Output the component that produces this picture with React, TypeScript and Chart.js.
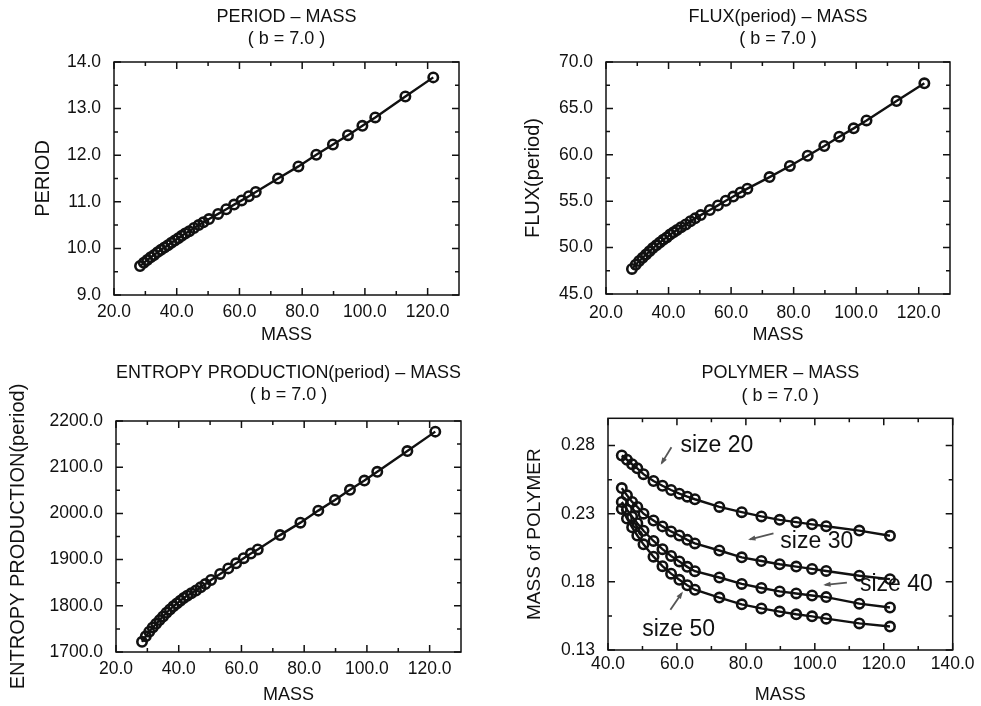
import React, { useEffect, useRef } from "react";
import { Chart, registerables } from "chart.js";
Chart.register(...registerables);

const FONT = "'Liberation Sans', Arial, Helvetica, sans-serif";
const INK = "#111111";

// ---- shared mass values (top panels + entropy) ----
const MASS = [28.3, 29.5, 30.6, 31.7, 32.8, 33.9, 35.0, 36.1, 37.2, 38.3, 39.4, 40.5, 41.6, 42.7, 44.0, 45.5, 47.0, 48.5, 50.3, 53.2, 55.8, 58.3, 60.7, 63.0, 65.2, 72.3, 78.8, 84.5, 89.8, 94.6, 99.2, 103.3, 112.9, 121.8];
const PERIOD = [9.62, 9.69, 9.75, 9.81, 9.86, 9.92, 9.97, 10.02, 10.07, 10.12, 10.17, 10.22, 10.27, 10.32, 10.37, 10.44, 10.50, 10.56, 10.63, 10.74, 10.84, 10.94, 11.03, 11.12, 11.21, 11.50, 11.76, 12.01, 12.23, 12.43, 12.63, 12.81, 13.26, 13.67];
const FLUX = [47.7, 48.15, 48.55, 48.9, 49.25, 49.6, 49.95, 50.25, 50.55, 50.85, 51.1, 51.4, 51.65, 51.9, 52.2, 52.5, 52.85, 53.15, 53.5, 54.05, 54.55, 55.05, 55.5, 55.95, 56.35, 57.6, 58.8, 59.9, 60.95, 61.95, 62.85, 63.7, 65.8, 67.7];
const ENTROPY = [1722, 1734, 1744, 1753, 1761, 1769, 1777, 1785, 1792, 1799, 1805, 1811, 1817, 1822, 1827, 1833, 1840, 1847, 1856, 1869, 1881, 1892, 1903, 1913, 1922, 1953, 1980, 2006, 2029, 2051, 2071, 2090, 2135, 2177];

// ---- polymer panel ----
const POLY_MASS = [44.0, 45.5, 47.0, 48.5, 50.3, 53.2, 55.8, 58.3, 60.7, 63.0, 65.2, 72.3, 78.8, 84.5, 89.8, 94.6, 99.2, 103.3, 112.9, 121.8];
const SIZE20 = [0.2727, 0.2696, 0.2663, 0.2633, 0.2590, 0.2540, 0.2505, 0.2474, 0.2447, 0.2425, 0.2406, 0.2350, 0.2311, 0.2280, 0.2255, 0.2238, 0.2222, 0.2208, 0.2176, 0.2138];
const SIZE30 = [0.2488, 0.2435, 0.2386, 0.2350, 0.2300, 0.2250, 0.2207, 0.2170, 0.2140, 0.2108, 0.2082, 0.2030, 0.1980, 0.1953, 0.1929, 0.1912, 0.1895, 0.1880, 0.1845, 0.1820];
const SIZE40 = [0.2386, 0.2330, 0.2278, 0.2230, 0.2175, 0.2100, 0.2040, 0.1990, 0.1950, 0.1910, 0.1878, 0.1832, 0.1785, 0.1755, 0.1730, 0.1715, 0.1700, 0.1688, 0.1640, 0.1612];
const SIZE50 = [0.2335, 0.2265, 0.2200, 0.2140, 0.2075, 0.1985, 0.1915, 0.1860, 0.1815, 0.1775, 0.1742, 0.1685, 0.1635, 0.1605, 0.1582, 0.1562, 0.1547, 0.1530, 0.1495, 0.1472];

const POLY_LABELS = ["size 20", "size 30", "size 40", "size 50"];
const POLY_LABEL_X = [61.0, 90.0, 113.1, 49.9];
const POLY_LABEL_Y = [0.2800, 0.2094, 0.1778, 0.1450];
const ARROW_FROM_X = [58.4, 88.0, 109.3, 58.1];
const ARROW_FROM_Y = [0.2788, 0.2155, 0.1795, 0.1596];
const ARROW_TO_X = [55.6, 81.2, 103.0, 61.4];
const ARROW_TO_Y = [0.2671, 0.2112, 0.1778, 0.1717];

// ---- ticks ----
const MASS_TICKS = [20, 40, 60, 80, 100, 120];
const MASS_MINOR = [30, 50, 70, 90, 110];
const POLY_MASS_TICKS = [40, 60, 80, 100, 120, 140];
const POLY_MASS_MINOR = [50, 70, 90, 110, 130];
const PERIOD_TICKS = [9, 10, 11, 12, 13, 14];
const PERIOD_MINOR = [9.5, 10.5, 11.5, 12.5, 13.5];
const FLUX_TICKS = [45, 50, 55, 60, 65, 70];
const FLUX_MINOR = [47.5, 52.5, 57.5, 62.5, 67.5];
const ENTROPY_TICKS = [1700, 1800, 1900, 2000, 2100, 2200];
const ENTROPY_MINOR = [1750, 1850, 1950, 2050, 2150];
const POLY_TICKS = [0.13, 0.18, 0.23, 0.28];
const POLY_MINOR = [0.155, 0.205, 0.255];

const pts = (xs: number[], ys: number[]) => xs.map((x, i) => ({ x, y: ys[i] }));

const lineDs = (data: { x: number; y: number }[]) => ({
  data,
  borderColor: INK,
  borderWidth: 2.4,
  pointRadius: 4.7,
  pointBorderWidth: 2.6,
  pointBorderColor: INK,
  pointBackgroundColor: "rgba(0,0,0,0)",
  tension: 0,
  fill: false,
});

const frameTicks = {
  id: "frameTicks",
  afterDatasetsDraw(chart: any, _a: any, opts: any) {
    const { ctx, chartArea: a, scales } = chart;
    const sx = scales.x;
    const sy = scales.y;
    ctx.save();
    ctx.strokeStyle = INK;
    ctx.lineWidth = 1.5;
    ctx.strokeRect(a.left, a.top, a.right - a.left, a.bottom - a.top);
    const tx = (vals: number[], len: number) => {
      vals.forEach((v) => {
        const p = sx.getPixelForValue(v);
        ctx.beginPath();
        ctx.moveTo(p, a.bottom);
        ctx.lineTo(p, a.bottom - len);
        ctx.moveTo(p, a.top);
        ctx.lineTo(p, a.top + len);
        ctx.stroke();
      });
    };
    const ty = (vals: number[], len: number) => {
      vals.forEach((v) => {
        const p = sy.getPixelForValue(v);
        ctx.beginPath();
        ctx.moveTo(a.left, p);
        ctx.lineTo(a.left + len, p);
        ctx.moveTo(a.right, p);
        ctx.lineTo(a.right - len, p);
        ctx.stroke();
      });
    };
    tx(opts.xMajor, 7);
    tx(opts.xMinor, 4);
    ty(opts.yMajor, 7);
    ty(opts.yMinor, 4);
    ctx.restore();
  },
};

const polyNotes = {
  id: "polyNotes",
  afterDatasetsDraw(chart: any) {
    const { ctx, scales } = chart;
    const sx = scales.x;
    const sy = scales.y;
    ctx.save();
    ctx.fillStyle = INK;
    ctx.font = `23px ${FONT}`;
    ctx.textAlign = "left";
    ctx.textBaseline = "middle";
    POLY_LABELS.forEach((t, i) => {
      ctx.fillText(t, sx.getPixelForValue(POLY_LABEL_X[i]), sy.getPixelForValue(POLY_LABEL_Y[i]));
    });
    ctx.strokeStyle = "#555";
    ctx.fillStyle = "#555";
    ctx.lineWidth = 1.8;
    ARROW_FROM_X.forEach((fx, i) => {
      const x0 = sx.getPixelForValue(fx);
      const y0 = sy.getPixelForValue(ARROW_FROM_Y[i]);
      const x1 = sx.getPixelForValue(ARROW_TO_X[i]);
      const y1 = sy.getPixelForValue(ARROW_TO_Y[i]);
      const ang = Math.atan2(y1 - y0, x1 - x0);
      ctx.beginPath();
      ctx.moveTo(x0, y0);
      ctx.lineTo(x1, y1);
      ctx.stroke();
      const h = 6;
      ctx.beginPath();
      ctx.moveTo(x1 + Math.cos(ang) * 2, y1 + Math.sin(ang) * 2);
      ctx.lineTo(x1 - h * Math.cos(ang - 0.45), y1 - h * Math.sin(ang - 0.45));
      ctx.lineTo(x1 - h * Math.cos(ang + 0.45), y1 - h * Math.sin(ang + 0.45));
      ctx.closePath();
      ctx.fill();
    });
    ctx.restore();
  },
};

type PanelSpec = {
  left: number;
  top: number;
  width: number;
  height: number;
  datasets: any[];
  title: string[];
  titlePad: { top: number; bottom: number };
  xMin: number;
  xMax: number;
  xTicks: number[];
  xMinor: number[];
  yMin: number;
  yMax: number;
  yTicks: number[];
  yMinor: number[];
  yDecimals: number;
  yTitle: string;
  yTitleSize: number;
  yTitlePad: number;
  yAxisWidth: number;
  xAxisHeight: number;
  xTickPad: number;
  xTitlePad: number;
  padRight: number;
  notes?: boolean;
};

function makeConfig(p: PanelSpec): any {
  const plugins: any[] = [frameTicks];
  if (p.notes) plugins.push(polyNotes);
  return {
    type: "line",
    data: { datasets: p.datasets },
    plugins,
    options: {
      responsive: false,
      animation: false,
      events: [],
      layout: { padding: { left: 0, right: p.padRight, top: 0, bottom: 0 } },
      plugins: {
        legend: { display: false },
        tooltip: { enabled: false },
        title: {
          display: true,
          text: p.title,
          fullSize: false,
          color: INK,
          font: { family: FONT, size: 18, weight: "normal", lineHeight: 1.25 },
          padding: p.titlePad,
        },
        frameTicks: { xMajor: p.xTicks, xMinor: p.xMinor, yMajor: p.yTicks, yMinor: p.yMinor },
      },
      scales: {
        x: {
          type: "linear",
          min: p.xMin,
          max: p.xMax,
          afterBuildTicks: (s: any) => {
            s.ticks = p.xTicks.map((v) => ({ value: v }));
          },
          afterFit: (s: any) => {
            s.height = p.xAxisHeight;
          },
          grid: { display: false, drawTicks: false },
          border: { display: false },
          ticks: {
            autoSkip: false,
            maxRotation: 0,
            padding: p.xTickPad,
            color: INK,
            font: { family: FONT, size: 17.5 },
            callback: (v: any) => Number(v).toFixed(1),
          },
          title: {
            display: true,
            text: "MASS",
            color: INK,
            font: { family: FONT, size: 18 },
            padding: { top: 0, bottom: p.xTitlePad },
          },
        },
        y: {
          type: "linear",
          min: p.yMin,
          max: p.yMax,
          afterBuildTicks: (s: any) => {
            s.ticks = p.yTicks.map((v) => ({ value: v }));
          },
          afterFit: (s: any) => {
            s.width = p.yAxisWidth;
          },
          grid: { display: false, drawTicks: false },
          border: { display: false },
          ticks: {
            autoSkip: false,
            padding: 13,
            color: INK,
            font: { family: FONT, size: 17.5 },
            callback: (v: any) => Number(v).toFixed(p.yDecimals),
          },
          title: {
            display: true,
            text: p.yTitle,
            color: INK,
            font: { family: FONT, size: p.yTitleSize },
            padding: { top: p.yTitlePad, bottom: 0 },
          },
        },
      },
    },
  };
}

function Panel({ spec }: { spec: PanelSpec }) {
  const ref = useRef<HTMLCanvasElement | null>(null);
  useEffect(() => {
    if (!ref.current) return;
    const chart = new Chart(ref.current, makeConfig(spec));
    return () => chart.destroy();
  }, []);
  return (
    <canvas
      ref={ref}
      width={spec.width}
      height={spec.height}
      style={{ position: "absolute", left: spec.left, top: spec.top, width: spec.width, height: spec.height }}
    />
  );
}

const PANELS: PanelSpec[] = [
  {
    left: 0, top: 0, width: 490, height: 360,
    datasets: [lineDs(pts(MASS, PERIOD))],
    title: ["PERIOD – MASS", "( b = 7.0 )"],
    titlePad: { top: 5.75, bottom: 11.25 },
    xMin: 20, xMax: 130, xTicks: MASS_TICKS, xMinor: MASS_MINOR,
    yMin: 9, yMax: 14, yTicks: PERIOD_TICKS, yMinor: PERIOD_MINOR, yDecimals: 1,
    yTitle: "PERIOD", yTitleSize: 20, yTitlePad: 31,
    yAxisWidth: 114, xAxisHeight: 65, xTickPad: 7, xTitlePad: 14, padRight: 31,
  },
  {
    left: 490, top: 0, width: 491, height: 360,
    datasets: [lineDs(pts(MASS, FLUX))],
    title: ["FLUX(period) – MASS", "( b = 7.0 )"],
    titlePad: { top: 5.5, bottom: 11.5 },
    xMin: 20, xMax: 130, xTicks: MASS_TICKS, xMinor: MASS_MINOR,
    yMin: 45, yMax: 70, yTicks: FLUX_TICKS, yMinor: FLUX_MINOR, yDecimals: 1,
    yTitle: "FLUX(period)", yTitleSize: 20, yTitlePad: 31,
    yAxisWidth: 116, xAxisHeight: 66, xTickPad: 8.5, xTitlePad: 14, padRight: 31,
  },
  {
    left: 0, top: 340, width: 490, height: 366,
    datasets: [lineDs(pts(MASS, ENTROPY))],
    title: ["ENTROPY PRODUCTION(period) – MASS", "( b = 7.0 )"],
    titlePad: { top: 21.75, bottom: 14.25 },
    xMin: 20, xMax: 130, xTicks: MASS_TICKS, xMinor: MASS_MINOR,
    yMin: 1700, yMax: 2200, yTicks: ENTROPY_TICKS, yMinor: ENTROPY_MINOR, yDecimals: 1,
    yTitle: "ENTROPY PRODUCTION(period)", yTitleSize: 20, yTitlePad: 6,
    yAxisWidth: 116, xAxisHeight: 54, xTickPad: 6.3, xTitlePad: 0.5, padRight: 29,
  },
  {
    left: 490, top: 340, width: 491, height: 366,
    datasets: [
      lineDs(pts(POLY_MASS, SIZE20)),
      lineDs(pts(POLY_MASS, SIZE30)),
      lineDs(pts(POLY_MASS, SIZE40)),
      lineDs(pts(POLY_MASS, SIZE50)),
    ],
    title: ["POLYMER – MASS", "( b = 7.0 )"],
    titlePad: { top: 22, bottom: 11.3 },
    xMin: 40, xMax: 140, xTicks: POLY_MASS_TICKS, xMinor: POLY_MASS_MINOR,
    yMin: 0.13, yMax: 0.30, yTicks: POLY_TICKS, yMinor: POLY_MINOR, yDecimals: 2,
    yTitle: "MASS of POLYMER", yTitleSize: 19, yTitlePad: 33.6,
    yAxisWidth: 118, xAxisHeight: 56, xTickPad: 3.8, xTitlePad: 0.5, padRight: 28.3,
    notes: true,
  },
];

export default function App() {
  return (
    <div style={{ position: "fixed", left: 0, top: 0, width: 981, height: 706, background: "#fff", overflow: "hidden" }}>
      {PANELS.map((s, i) => (
        <Panel key={i} spec={s} />
      ))}
    </div>
  );
}
